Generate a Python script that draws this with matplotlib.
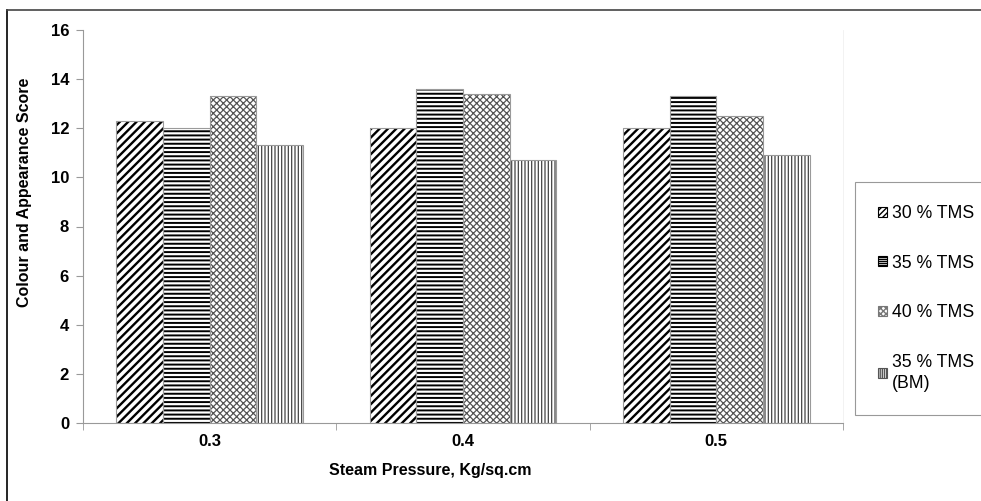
import matplotlib
matplotlib.use("Agg")
import matplotlib.pyplot as plt
import numpy as np
from matplotlib.patches import Patch
from matplotlib.lines import Line2D

plt.rcParams['font.family'] = ['Liberation Sans', 'DejaVu Sans']

categories = ["0.3", "0.4", "0.5"]
series_names = ["30 % TMS", "35 % TMS", "40 % TMS", "35 % TMS\n(BM)"]
tms30 = [12.3, 12.0, 12.0]
tms35 = [12.0, 13.6, 13.3]
tms40 = [13.3, 13.4, 12.5]
tms35bm = [11.3, 10.7, 10.9]
series = [tms30, tms35, tms40, tms35bm]
yticks = [0, 2, 4, 6, 8, 10, 12, 14, 16]

hatches = ['////', '----', 'xxxxx', '|||||']
hatch_lw = [1.7, 1.4, 0.9, 0.9]
hatch_col = ['#000000', '#000000', '#555555', '#444444']
leg_hatches = ['//////', '--------', 'xxxxxx', '||||||||']
leg_edge = ['#000000', '#000000', '#777777', '#555555']

W, H = 981, 501
fig = plt.figure(figsize=(W / 100, H / 100), dpi=100)
ax = fig.add_axes([83 / W, 1 - 423 / H, (843 - 83) / W, (423 - 30) / H])

x = np.arange(len(categories))
bw = 0.184
offsets = (np.arange(4) - 1.5) * bw
for i, vals in enumerate(series):
    bars = ax.bar(x + offsets[i], vals, width=bw, color='white',
                  edgecolor=hatch_col[i], linewidth=0, hatch=hatches[i], zorder=2)
    for b in bars:
        if hasattr(b, 'set_hatch_linewidth'):
            b.set_hatch_linewidth(hatch_lw[i])
    ax.bar(x + offsets[i], vals, width=bw, fill=False, edgecolor='#9a9a9a',
           linewidth=0.8, zorder=3)

ax.set_xlim(-0.5, len(categories) - 0.5)
ax.set_ylim(0, 16)
ax.set_yticks(yticks)
ax.set_yticklabels([str(t) for t in yticks], fontsize=12, fontweight='bold')
ax.set_xticks(x)
ax.set_xticklabels(categories, fontsize=12, fontweight='bold')
ax.set_xticks(np.arange(len(categories) + 1) - 0.5, minor=True)
ax.tick_params(axis='x', which='major', length=0, pad=8)
ax.tick_params(axis='x', which='minor', length=5, color='#999999', direction='out')
ax.tick_params(axis='y', length=5, color='#999999', direction='out', pad=5)

ax.spines['top'].set_visible(False)
ax.spines['right'].set_color('#f0f0f0')
ax.spines['right'].set_linewidth(0.6)
ax.spines['left'].set_color('#999999')
ax.spines['bottom'].set_color('#999999')

fig.text(25 / W, 1 - 192 / H, "Colour and Appearance Score", rotation=90,
         ha='center', va='center', fontsize=11.5, fontweight='bold')
fig.text(430 / W, 1 - 471 / H, "Steam Pressure, Kg/sq.cm", ha='center', va='center',
         fontsize=11.5, fontweight='bold')

handles = []
for i in range(4):
    p = Patch(facecolor='white', edgecolor=leg_edge[i], hatch=leg_hatches[i], linewidth=0.8)
    handles.append(p)
leg = fig.legend(handles, series_names, loc='upper left',
                 bbox_to_anchor=(855 / W, 1 - 182 / H), fontsize=12.7,
                 labelspacing=1.85, handlelength=0.5, handleheight=0.5,
                 handletextpad=0.3, borderpad=1.3, borderaxespad=0,
                 fancybox=False, edgecolor='#999999', framealpha=1)
leg.get_frame().set_linewidth(0.8)
leg.get_texts()[3].set_linespacing(1.35)

# figure border (left and top visible)
fig.add_artist(Line2D([7 / W, 7 / W], [0, 1 - 10 / H], transform=fig.transFigure,
                      color='black', linewidth=1.2))
fig.add_artist(Line2D([7 / W, 1], [1 - 10 / H, 1 - 10 / H], transform=fig.transFigure,
                      color='#444444', linewidth=1.2))

fig.savefig("out.png", dpi=100)
